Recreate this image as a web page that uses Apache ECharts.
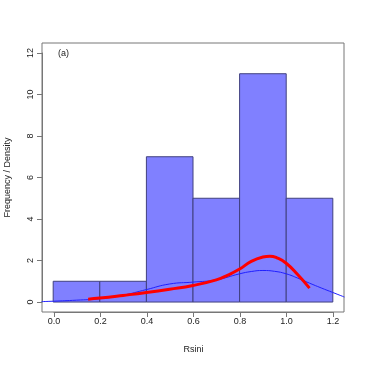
<!DOCTYPE html>
<html>
<head>
    <meta charset="utf-8">
    <title>Rsini histogram</title>
    <script src="https://cdn.jsdelivr.net/npm/echarts@6/dist/echarts.min.js"></script>
    <style>
        html, body { margin: 0; padding: 0; background: #fff; }
        #chart { width: 366px; height: 366px; }
    </style>
</head>
<body>
<div id="chart"></div>
<script>
    // histogram bins (Rsini) and counts
    var binStart = [0.0, 0.2, 0.4, 0.6, 0.8, 1.0];
    var binEnd = [0.2, 0.4, 0.6, 0.8, 1.0, 1.2];
    var counts = [1, 1, 7, 5, 11, 5];

    // thin blue density curve
    var blueX = [-0.05, 0.0, 0.1, 0.2, 0.3, 0.4, 0.5, 0.6, 0.7, 0.8, 0.85, 0.9, 0.95, 1.0, 1.05, 1.1, 1.15, 1.2, 1.25];
    var blueY = [0.02, 0.04, 0.09, 0.16, 0.33, 0.6, 0.87, 0.96, 1.07, 1.36, 1.47, 1.52, 1.48, 1.36, 1.15, 0.91, 0.68, 0.46, 0.24];

    // thick red curve
    var redX = [0.15, 0.2, 0.3, 0.4, 0.5, 0.6, 0.7, 0.75, 0.8, 0.85, 0.9, 0.93, 0.96, 1.0, 1.05, 1.1];
    var redY = [0.14, 0.19, 0.32, 0.46, 0.62, 0.8, 1.07, 1.3, 1.59, 1.96, 2.17, 2.21, 2.13, 1.87, 1.31, 0.67];

    var xTicks = [0.0, 0.2, 0.4, 0.6, 0.8, 1.0, 1.2];
    var yTicks = [0, 2, 4, 6, 8, 10, 12];

    var font = 'Liberation Sans, Arial, sans-serif';
    var axisCol = '#777';

    function pairs(xs, ys) {
        return xs.map(function (x, i) { return [x, ys[i]]; });
    }

    // R pads the plot region by 4% of the data range on each side
    var xMin = xTicks[0], xMax = xTicks[xTicks.length - 1];
    var yMin = yTicks[0], yMax = yTicks[yTicks.length - 1];
    var xPad = (xMax - xMin) * 0.04, yPad = (yMax - yMin) * 0.04;

    var chart = echarts.init(document.getElementById('chart'), null, {renderer: 'canvas'});

    var option = {
        animation: false,
        grid: [
            // tick area (0..1.2, 0..12)
            {left: 54, right: 33, top: 53, bottom: 64, outerBoundsMode: 'none', containLabel: false},
            // R style box = padded plot region, marks are drawn here
            {left: 42, right: 22, top: 43, bottom: 54, outerBoundsMode: 'none', containLabel: false,
                show: true, borderColor: axisCol, borderWidth: 1, backgroundColor: 'transparent'}
        ],
        xAxis: [{
            type: 'value', gridIndex: 0, min: xMin, max: xMax, interval: 0.2,
            offset: 10,
            name: 'Rsini', nameLocation: 'middle', nameGap: 33,
            nameTextStyle: {fontFamily: font, fontSize: 9, color: '#222'},
            axisLine: {show: true, onZero: false, lineStyle: {color: axisCol, width: 1}},
            axisTick: {show: true, length: 5, lineStyle: {color: axisCol}},
            axisLabel: {fontFamily: font, fontSize: 9, color: '#222', margin: 5,
                formatter: function (v) { return v.toFixed(1); }},
            splitLine: {show: false}
        }, {
            type: 'value', gridIndex: 1, show: false, min: xMin - xPad, max: xMax + xPad
        }],
        yAxis: [{
            type: 'value', gridIndex: 0, min: yMin, max: yMax, interval: 2,
            offset: 12,
            name: 'Frequency / Density', nameLocation: 'middle', nameGap: 30,
            nameTextStyle: {fontFamily: font, fontSize: 9, color: '#222'},
            axisLine: {show: true, onZero: false, lineStyle: {color: axisCol, width: 1}},
            axisTick: {show: true, length: 5, lineStyle: {color: axisCol}},
            axisLabel: {fontFamily: font, fontSize: 9, color: '#222', margin: 7, rotate: 90,
                align: 'center', verticalAlign: 'bottom'},
            splitLine: {show: false}
        }, {
            type: 'value', gridIndex: 1, show: false, min: yMin - yPad, max: yMax + yPad
        }],
        graphic: [{
            type: 'text', left: 58, top: 49,
            style: {text: '(a)', fontFamily: font, fontSize: 9, fill: '#222'}
        }],
        series: [{
            type: 'custom',
            xAxisIndex: 1, yAxisIndex: 1,
            data: binStart.map(function (s, i) { return [s, binEnd[i], counts[i]]; }),
            renderItem: function (params, api) {
                var p0 = api.coord([api.value(0), api.value(2)]);
                var p1 = api.coord([api.value(1), 0]);
                return {
                    type: 'rect',
                    shape: {x: p0[0], y: p0[1], width: p1[0] - p0[0], height: p1[1] - p0[1]},
                    style: {fill: '#8080ff', stroke: '#40407f', lineWidth: 1}
                };
            },
            z: 1
        }, {
            type: 'line',
            xAxisIndex: 1, yAxisIndex: 1,
            data: pairs(blueX, blueY),
            smooth: true, showSymbol: false, clip: false,
            lineStyle: {color: '#2020ff', width: 1},
            z: 2
        }, {
            type: 'line',
            xAxisIndex: 1, yAxisIndex: 1,
            data: pairs(redX, redY),
            smooth: true, showSymbol: false, clip: false,
            lineStyle: {color: '#ff0000', width: 3},
            z: 3
        }]
    };

    chart.setOption(option);
</script>
</body>
</html>
